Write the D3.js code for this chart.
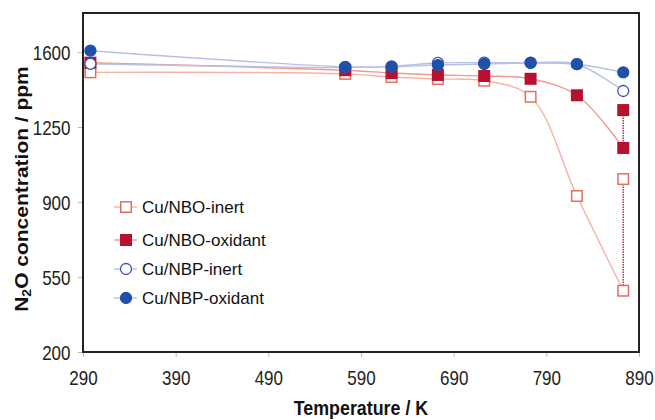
<!DOCTYPE html>
<html>
<head>
<meta charset="utf-8">
<script src="https://cdn.jsdelivr.net/npm/d3@7"></script>
<style>
  body { margin: 0; background: #fff; }
  svg { display: block; font-family: "Liberation Sans", Arial, sans-serif; }
</style>
</head>
<body>
<div id="chart"></div>
<script>
// Temperatures (K) and N2O concentration (ppm)
const temps = [298, 573, 623, 673, 723, 773, 823, 873];
const nboInert = [1505, 1498, 1483, 1474, 1466, 1391, 928, 486];
const nboOxidant = [1550, 1515, 1502, 1493, 1488, 1475, 1398, 1152];
const nbpInert = [1545, 1528, 1533, 1549, 1550, 1550, 1543, 1418];
const nbpOxidant = [1606, 1531, 1531, 1539, 1544, 1549, 1543, 1505];
// second reading at 873 K for the NBO samples (joined by a dotted line)
const extraTemp = 873;
const nboInertExtra = 1007;
const nboOxidantExtra = 1329;

const xTicks = [290, 390, 490, 590, 690, 790, 890];
const yTicks = [200, 550, 900, 1250, 1600];

const W = 655, H = 420;
const margin = { top: 13, right: 16, bottom: 68, left: 83 };
const iw = W - margin.left - margin.right;
const ih = H - margin.top - margin.bottom;

const svg = d3.select('#chart').append('svg')
  .attr('width', W).attr('height', H);

const x = d3.scaleLinear().domain([290, 890]).range([0, iw]);
const y = d3.scaleLinear().domain([200, 1782]).range([ih, 0]);

const g = svg.append('g').attr('transform', `translate(${margin.left},${margin.top})`);

// axes
const xAxis = g.append('g')
  .attr('transform', `translate(0,${ih})`)
  .call(d3.axisBottom(x).tickValues(xTicks).tickFormat(d3.format('d')).tickSize(5).tickSizeOuter(0));
xAxis.select('.domain').remove();
xAxis.selectAll('line').attr('stroke', '#bbb');
xAxis.selectAll('text')
  .attr('y', 33).attr('dy', 0)
  .attr('font-size', 20).attr('fill', '#222')
  .attr('font-family', '"Liberation Sans", Arial, sans-serif')
  .attr('transform', 'scale(0.85,1)');

const yAxis = g.append('g')
  .call(d3.axisLeft(y).tickValues(yTicks).tickFormat(d3.format('d')).tickSize(5).tickSizeOuter(0));
yAxis.select('.domain').remove();
yAxis.selectAll('line').attr('stroke', '#bbb');
yAxis.selectAll('text')
  .attr('x', -12.5 / 0.85).attr('dy', '0.36em')
  .attr('font-size', 20).attr('fill', '#222')
  .attr('font-family', '"Liberation Sans", Arial, sans-serif')
  .attr('transform', 'scale(0.85,1)');

// axis titles
svg.append('text')
  .attr('transform', `translate(${margin.left + iw / 2},415) scale(0.85,1)`)
  .attr('text-anchor', 'middle')
  .attr('font-size', 21).attr('font-weight', 'bold').attr('fill', '#111')
  .text('Temperature / K');

const yt = svg.append('text')
  .attr('transform', `translate(28,189) scale(0.85,1) rotate(-90)`)
  .attr('text-anchor', 'middle')
  .attr('font-size', 21).attr('font-weight', 'bold').attr('fill', '#111');
yt.append('tspan').text('N');
yt.append('tspan').attr('font-size', 14).attr('dy', 4).text('2');
yt.append('tspan').attr('dy', -4).text('O concentration / ppm');

// series
const series = [
  { name: 'Cu/NBO-inert', vals: nboInert, line: '#f5b3a3', shape: 'square', fill: '#fff', stroke: '#e0705e' },
  { name: 'Cu/NBO-oxidant', vals: nboOxidant, line: '#ee9a92', shape: 'square', fill: '#b8112f', stroke: '#b8112f' },
  { name: 'Cu/NBP-inert', vals: nbpInert, line: '#b7c0e6', shape: 'circle', fill: '#fff', stroke: '#3c52b2' },
  { name: 'Cu/NBP-oxidant', vals: nbpOxidant, line: '#b7c0e6', shape: 'circle', fill: '#2150a8', stroke: '#2150a8' }
];

const line = d3.line()
  .x(d => x(d[0])).y(d => y(d[1]))
  .curve(d3.curveCatmullRom.alpha(0.5));

const plot = g.append('g');

// dotted links between the two readings at 873 K
[[nboInertExtra, nboInert[nboInert.length - 1]], [nboOxidantExtra, nboOxidant[nboOxidant.length - 1]]]
  .forEach(([a, b]) => {
    plot.append('line')
      .attr('x1', x(extraTemp)).attr('x2', x(extraTemp))
      .attr('y1', y(a)).attr('y2', y(b))
      .attr('stroke', '#c8304a').attr('stroke-width', 1.5)
      .attr('stroke-dasharray', '1.5,1');
  });

function marker(sel, s, size) {
  if (s.shape === 'square') {
    return sel.append('rect')
      .attr('x', -size / 2).attr('y', -size / 2)
      .attr('width', size).attr('height', size)
      .attr('fill', s.fill).attr('stroke', s.stroke).attr('stroke-width', 1.5);
  }
  return sel.append('circle')
    .attr('r', size / 2)
    .attr('fill', s.fill).attr('stroke', s.stroke).attr('stroke-width', 1.3);
}

series.forEach(s => {
  const pts = temps.map((t, i) => [t, s.vals[i]]);
  plot.append('path')
    .attr('d', line(pts))
    .attr('fill', 'none')
    .attr('stroke', s.line).attr('stroke-width', 1.4);
});

const extras = { 'Cu/NBO-inert': nboInertExtra, 'Cu/NBO-oxidant': nboOxidantExtra };

series.forEach(s => {
  const pts = temps.map((t, i) => [t, s.vals[i]]);
  if (extras[s.name] !== undefined) pts.push([extraTemp, extras[s.name]]);
  pts.forEach(p => {
    const m = plot.append('g').attr('transform', `translate(${x(p[0])},${y(p[1])})`);
    marker(m, s, s.shape === 'square' ? 10.5 : 11);
  });
});

// frame
g.append('rect')
  .attr('width', iw).attr('height', ih)
  .attr('fill', 'none').attr('stroke', '#222').attr('stroke-width', 2);

// legend
const legendRows = [207, 240, 269, 298];
const legend = svg.append('g');
series.forEach((s, i) => {
  const row = legend.append('g').attr('transform', `translate(126,${legendRows[i]})`);
  row.append('line').attr('x1', -12).attr('x2', 11)
    .attr('stroke', s.line).attr('stroke-width', 1.4);
  marker(row, s, s.shape === 'square' ? 10.5 : 11);
  row.append('text')
    .attr('x', 16).attr('dy', '0.35em')
    .attr('font-size', 17).attr('fill', '#111')
    .text(s.name);
});
</script>
</body>
</html>
